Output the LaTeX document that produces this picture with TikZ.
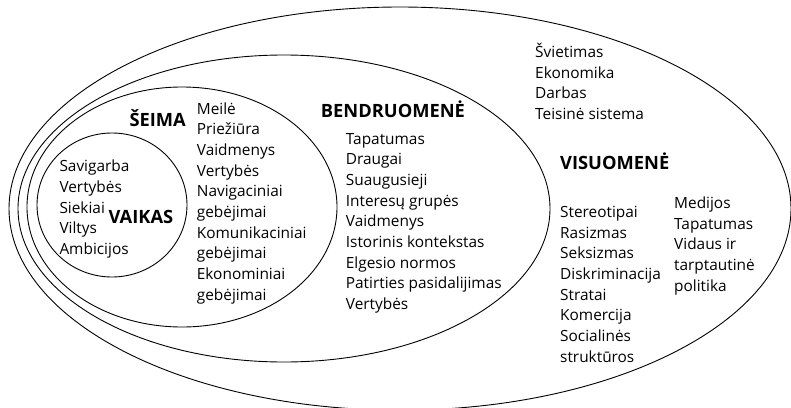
\documentclass[tikz,border=0pt]{standalone}
\usepackage{fontspec}
\setmainfont{Open Sans}
\begin{document}
\begin{tikzpicture}[x=1pt,y=-1pt,
  ring/.style={draw, line width=.9pt},
  item/.style={anchor=base west, inner sep=0pt, font=\fontsize{15.4}{20}\selectfont},
  title/.style={anchor=base west, inner sep=0pt, font=\fontsize{18.3}{20}\selectfont\bfseries}]
  \def\gap{20.7}
  \useasboundingbox (0,0) rectangle (791,407);
  % the four nested rings
  \draw [ring] (400,208.6) ellipse [x radius=391pt, y radius=201.6pt];
  \draw [ring] (284,208.5) ellipse [x radius=266pt, y radius=153.5pt];
  \draw [ring] (182,207) ellipse [x radius=155pt, y radius=120pt];
  \draw [ring] (112,205) ellipse [x radius=75pt, y radius=72pt];
  % vaikas
  \node [title] (vaikas) at (108.3,223.3) {VAIKAS};
  \foreach \t [count=\i from 0] in {Savigarba, Vertybės, Siekiai, Viltys, Ambicijos}
    \node [item] (vaikas-\i) at (59.3,171.7+\i*\gap) {\t};
  % seima
  \node [title] (seima) at (129.3,126.7) {ŠEIMA};
  \foreach \t [count=\i from 0] in {Meilė, Priežiūra, Vaidmenys, Vertybės, Navigaciniai,
    gebėjimai, Komunikaciniai, gebėjimai, Ekonominiai, gebėjimai}
    \node [item] (seima-\i) at (196.7,114+\i*\gap) {\t};
  % bendruomene
  \node [title] (bendr) at (320.7,117.3) {BENDRUOMENĖ};
  \foreach \t [count=\i from 0] in {Tapatumas, Draugai, Suaugusieji, Interesų grupės,
    Vaidmenys, Istorinis kontekstas, Elgesio normos, Patirties pasidalijimas, Vertybės}
    \node [item] (bendr-\i) at (345.7,144+\i*\gap) {\t};
  % visuomene
  \node [title] (visuom) at (560,169.3) {VISUOMENĖ};
  \foreach \t [count=\i from 0] in {Švietimas, Ekonomika, Darbas, Teisinė sistema}
    \node [item] (inst-\i) at (535,57.3+\i*\gap) {\t};
  \foreach \t [count=\i from 0] in {Stereotipai, Rasizmas, Seksizmas, Diskriminacija,
    Stratai, Komercija, Socialinės, struktūros}
    \node [item] (soc-\i) at (560,217.3+\i*\gap) {\t};
  \foreach \t [count=\i from 0] in {Medijos, Tapatumas, Vidaus ir, tarptautinė, politika}
    \node [item] (pol-\i) at (674,208.3+\i*\gap) {\t};
\end{tikzpicture}
\end{document}
